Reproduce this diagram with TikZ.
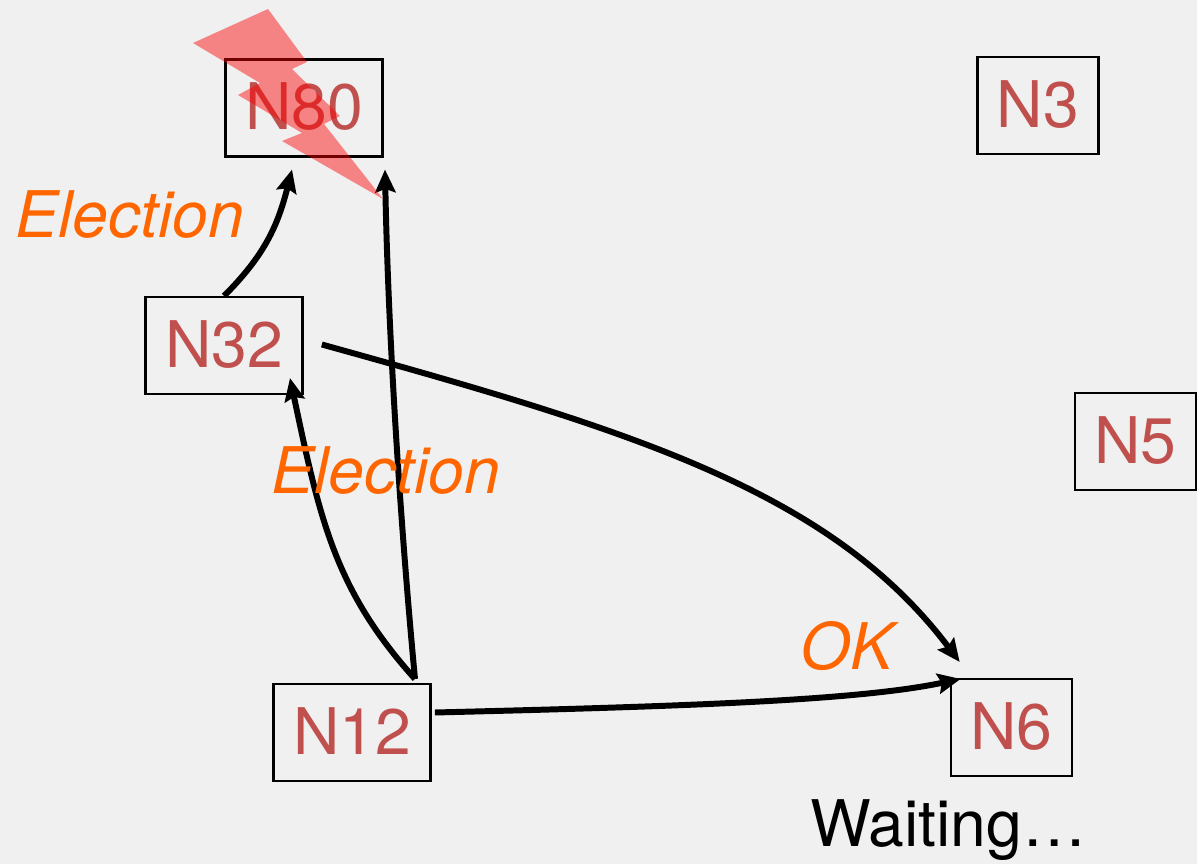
\documentclass[tikz,border=0pt]{standalone}
\usepackage{xcolor}
\usepackage{fontspec}
\setmainfont{TeX Gyre Heros}
\usetikzlibrary{arrows.meta}
\definecolor{pagegray}{HTML}{F0F0F0}
\definecolor{nodered}{HTML}{C0504D}
\definecolor{msgorange}{HTML}{FF6600}
\tikzset{>=stealth}
\tikzset{
  proc/.style={draw=black, line width=1.4pt, minimum height=55pt, inner sep=0pt, text depth=2pt, text=nodered, font=\fontsize{36.6}{36.6}\selectfont},
  wideproc/.style={proc, minimum width=89.5pt},
  narrowproc/.style={proc, minimum width=69pt},
  msg/.style={-{Stealth[length=13pt,width=11.5pt,inset=2pt]}, line width=3.4pt},
  msglabel/.style={text=msgorange, inner sep=0pt, font=\fontsize{36.6}{36.6}\selectfont\itshape}
}

\begin{document}
\begin{tikzpicture}[x=0.02cm, y=-0.02cm]
      \fill[pagegray] (0,0) rectangle (1197,864);
      \useasboundingbox (0,0) rectangle (1197,864);
      \node[wideproc] (n80) at (304,108) {N80};
      \node[narrowproc] (n3) at (1038,105.5) {N3};
      \node[wideproc] (n32) at (224,345.5) {N32};
      \node[narrowproc] (n5) at (1135.5,441.5) {N5};
      \node[wideproc] (n12) at (352,732.5) {N12};
      \node[narrowproc] (n6) at (1011.5,727.5) {N6};
      \draw[msg] (n32.north) .. controls (265,255) and (278,225) .. ([shift={(-12,12)}]n80.south);
      \draw[msg] ([shift={(63,-4)}]n12.north) .. controls (400,520) and (388,330) .. ([shift={(81,12)}]n80.south);
      \draw[msg] ([shift={(63,-4)}]n12.north) .. controls (335,590) and (320,520) .. ([shift={(66,-17)}]n32.south);
      \draw[msg] ([shift={(18,-1)}]n32.east) .. controls (630,430) and (830,490) .. ([shift={(10,-16)}]n6.north west);
      \draw[msg] ([shift={(3,-20)}]n12.east) .. controls (700,706) and (860,700) .. ([shift={(11,1)}]n6.north west);
      \node[msglabel, anchor=base west] (elecone) at (15,238) {Election};
      \node[msglabel, anchor=base west] (electwo) at (271,494) {Election};
      \node[msglabel, anchor=base west] (okmsg) at (800,669) {OK};
      \node[anchor=base west, inner sep=0pt, font=\fontsize{36.6}{36.6}\selectfont] (waiting) at (810,846) {Waiting…};
      \fill[red, opacity=0.45] (268,9) -- (307,62) -- (292,69) -- (340,116) -- (324,124) -- (383,199) -- (282,141) -- (302,133) -- (238,95) -- (260,83) -- (193,43) -- cycle;
    \end{tikzpicture}
\end{document}
